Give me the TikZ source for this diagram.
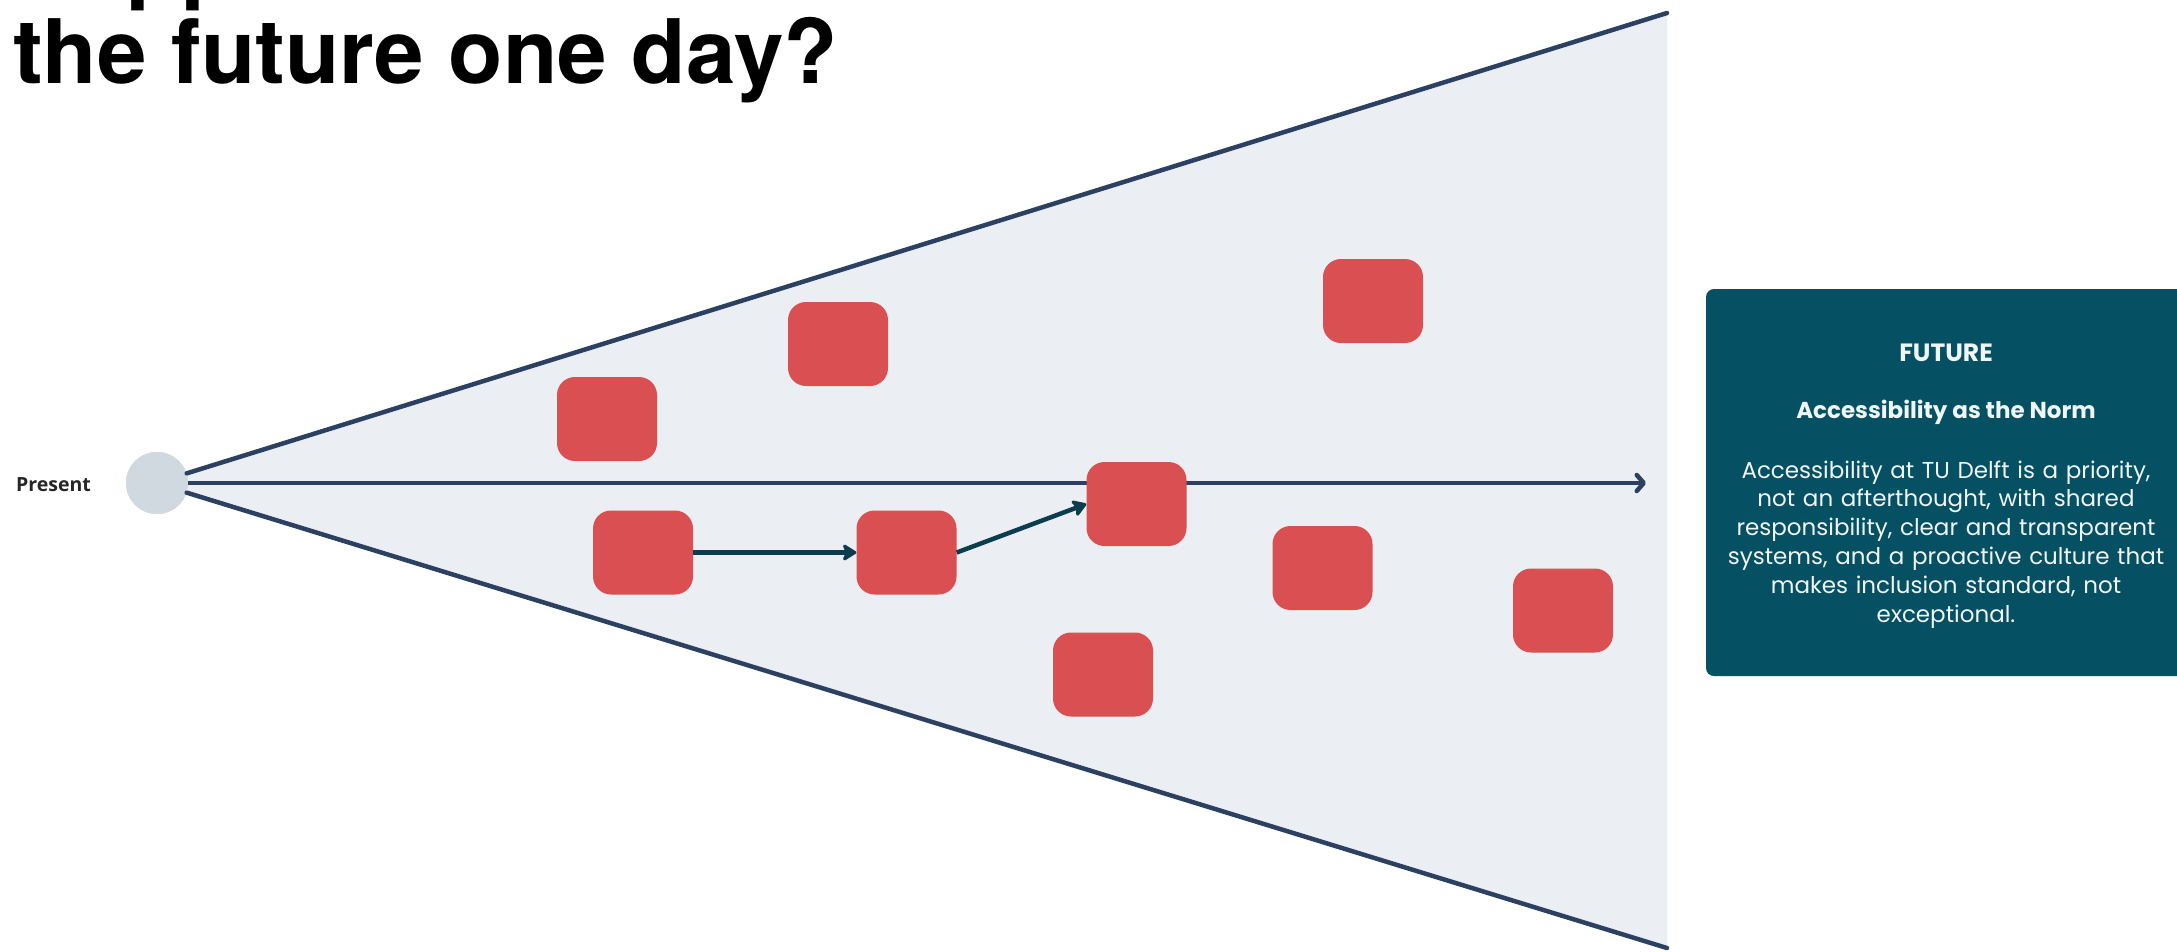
\documentclass[tikz,border=0pt]{standalone}
\usepackage{fontspec}
\setmainfont{Poppins}
\newfontfamily\headfont{TeX Gyre Heros}
\newfontfamily\labelfont{Open Sans}
\usetikzlibrary{arrows.meta}

\definecolor{conefill}{RGB}{235,238,242}
\definecolor{coneline}{RGB}{44,65,98}
\definecolor{pathline}{RGB}{11,61,78}
\definecolor{ideared}{RGB}{218,79,81}
\definecolor{dotgrey}{RGB}{207,217,223}
\definecolor{futureteal}{RGB}{5,80,98}
\definecolor{futuretext}{RGB}{240,245,246}

\tikzset{
  coneedge/.style={draw=coneline, line width=4.5pt, line cap=round},
  timeaxis/.style={draw=coneline, line width=4.5pt,
    -{Straight Barb[length=7pt,width=16pt,line cap=round,line join=round]}},
  idea/.style={fill=ideared, draw=none, rounded corners=18pt,
    minimum width=100pt, minimum height=84pt, inner sep=0pt},
  pathstep/.style={draw=pathline, line width=4.5pt,
    -{Stealth[length=16pt,width=20pt,inset=4pt,round]}},
  futurebox/.style={fill=futureteal, draw=none, rounded corners=8pt,
    minimum width=480pt, minimum height=387pt, inner sep=0pt},
  headline/.style={anchor=base west, inner sep=0pt,
    font=\headfont\bfseries\fontsize{89}{92}\selectfont},
}

\begin{document}
\begin{tikzpicture}[x=1pt,y=-1pt]
  \useasboundingbox (0,0) rectangle (2177,951);
  \clip (0,0) rectangle (2177,951);
  \fill[white] (0,0) rectangle (2177,951);

  % heading, its first line running off the top edge
  \node[headline] (head1) at (13,-9) {Happen in};
  \node[headline] (head2) at (13,83) {the future one day?};

  % starting point
  \node[circle, fill=dotgrey, minimum size=62pt, inner sep=0pt] (present) at (157,483) {};
  \node[anchor=base west, inner sep=0pt, text=black!85,
        font=\labelfont\bfseries\fontsize{19.5}{22}\selectfont]
    (presentlabel) at (16,491) {Present};

  % cone of possible futures
  \coordinate (topend) at (1667,13);
  \coordinate (botend) at (1667,948);
  \coordinate (midend) at (1646,483);
  \fill[conefill] (present.18) -- (topend) -- (botend) -- (present.-18) -- cycle;
  \node[circle, fill=dotgrey, minimum size=62pt, inner sep=0pt] at (present) {};
  \draw[coneedge] (present.18) -- (topend);
  \draw[coneedge] (present.-18) -- (botend);
  \draw[timeaxis] (present.east) -- (midend);

  % possible futures
  \node[idea] (b1) at (607,419) {};
  \node[idea] (b2) at (838,344) {};
  \node[idea] (b3) at (1373,301) {};
  \node[idea] (b4) at (643,552.5) {};
  \node[idea] (b5) at (906.5,552.5) {};
  \node[idea] (b6) at (1136.5,504) {};
  \node[idea] (b7) at (1322.5,568) {};
  \node[idea] (b8) at (1563,610.5) {};
  \node[idea] (b9) at (1103,674.5) {};

  \draw[pathstep] (b4.east) -- (b5.west);
  \draw[pathstep] (b5.east) -- (b6.west);

  % future description
  \node[futurebox] (future) at (1946,482.5) {};
  \node[anchor=base, inner sep=0pt, text=futuretext,
        font=\bfseries\fontsize{25}{30}\selectfont]
    (futuretitle) at (1946,361) {FUTURE};
  \node[anchor=base, inner sep=0pt, text=futuretext,
        font=\bfseries\fontsize{23}{28}\selectfont]
    (futuresub) at (1946,418) {Accessibility as the Norm};
  \node[anchor=base, inner sep=0pt, text=futuretext, text width=470pt, align=center,
        font=\fontsize{23}{28.8}\selectfont]
    (futurebody) at (1946,478) {Accessibility at TU Delft is a priority,\\
      not an afterthought, with shared\\
      responsibility, clear and transparent\\
      systems, and a proactive culture that\\
      makes inclusion standard, not\\
      exceptional.};
\end{tikzpicture}
\end{document}
